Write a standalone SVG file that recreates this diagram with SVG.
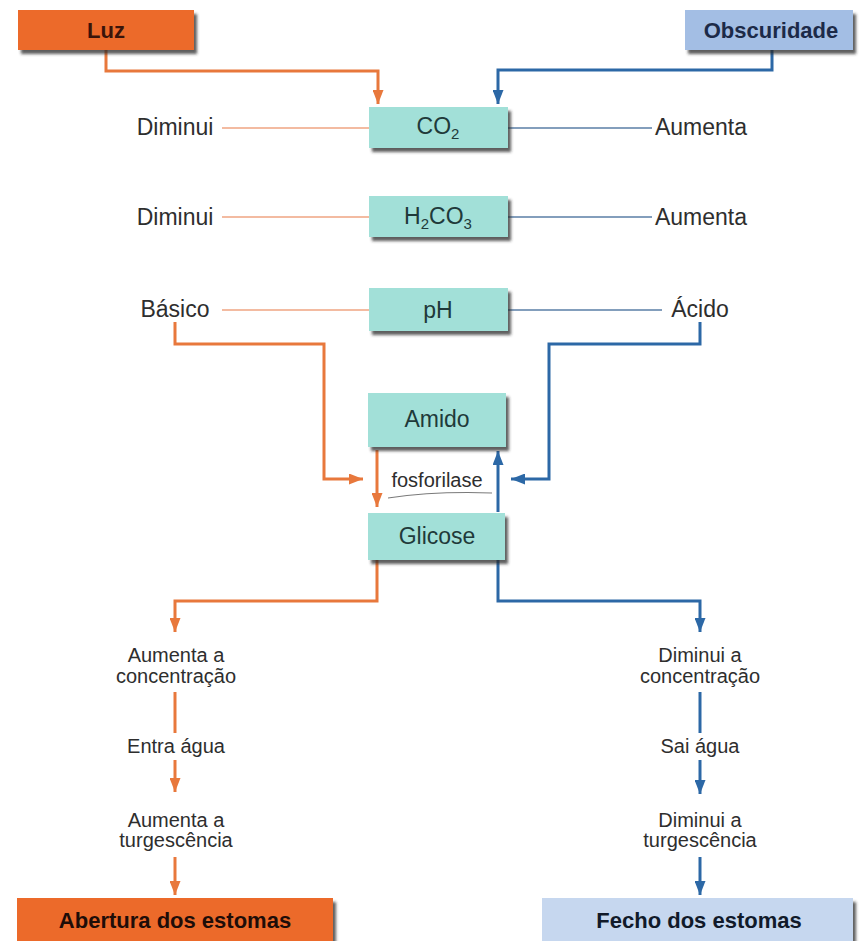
<svg xmlns="http://www.w3.org/2000/svg" width="859" height="941" viewBox="0 0 859 941">
  <defs>
    <filter id="shadow" x="-10%" y="-20%" width="125%" height="160%">
      <feDropShadow dx="3" dy="4" stdDeviation="1.4" flood-color="#2b2b2b" flood-opacity="0.75"/>
    </filter>
    <marker id="arrow-orange" markerUnits="userSpaceOnUse" markerWidth="15" markerHeight="11" refX="14" refY="5.5" orient="auto">
      <path d="M0,0 L14,5.5 L0,11 Z" fill="#e8783c"/>
    </marker>
    <marker id="arrow-blue" markerUnits="userSpaceOnUse" markerWidth="15" markerHeight="11" refX="14" refY="5.5" orient="auto">
      <path d="M0,0 L14,5.5 L0,11 Z" fill="#2c68a6"/>
    </marker>
  </defs>
  <style>
    text { font-family: "Liberation Sans", Arial, sans-serif; fill: #2e2e2e; text-anchor: middle; }
    .lbl { font-size: 23px; }
    .col { font-size: 20px; }
    .box-lbl { font-size: 23px; fill: #1f3a3a; }
    .head { font-size: 22px; font-weight: bold; }
    .teal { fill: #a2e0d8; filter: url(#shadow); }
    .orange-box { fill: #ec6a2c; filter: url(#shadow); }
    .blue-box { fill: #a3bee4; filter: url(#shadow); }
    .pale-blue-box { fill: #c6d7ef; filter: url(#shadow); }
    .o { fill: none; stroke: #e8783c; stroke-width: 3; }
    .b { fill: none; stroke: #2c68a6; stroke-width: 3; }
    .o-thin { fill: none; stroke: #efa482; stroke-width: 1.6; }
    .b-thin { fill: none; stroke: #5a7ea6; stroke-width: 1.6; }
    .oa { marker-end: url(#arrow-orange); }
    .ba { marker-end: url(#arrow-blue); }
  </style>

  <rect width="859" height="941" fill="#ffffff"/>

  <!-- connectors -->
  <g id="connectors">
    <!-- from light / darkness to CO2 -->
    <path class="o oa" d="M106,50 V71 H378 V104" stroke-width="2.6"/>
    <path class="b ba" d="M772,50 V70 H498 V104"/>
    <!-- label lines -->
    <path class="o-thin" d="M222,128 H370"/>
    <path class="b-thin" d="M508,128 H652"/>
    <path class="o-thin" d="M222,217 H370"/>
    <path class="b-thin" d="M508,217 H652"/>
    <path class="o-thin" d="M222,310 H370"/>
    <path class="b-thin" d="M508,310 H662"/>
    <!-- pH outcome to starch / glucose conversion -->
    <path class="o oa" d="M175,322 V344 H324 V479 H363"/>
    <path class="b ba" d="M700,322 V344 H549 V479 H511"/>
    <!-- starch <-> glucose -->
    <path class="o oa" d="M377,450 V507"/>
    <path class="b ba" d="M498,512 V451"/>
    <path d="M388,498 Q436,491 492,493" fill="none" stroke="#7a7a7a" stroke-width="1.1"/>
    <!-- glucose to the two branches -->
    <path class="o oa" d="M377,560 V601 H175 V632"/>
    <path class="b ba" d="M498,560 V601 H700 V632"/>
    <!-- left branch -->
    <path class="o" d="M175,692 V733"/>
    <path class="o oa" d="M175,760 V792"/>
    <path class="o oa" d="M175,857 V895"/>
    <!-- right branch -->
    <path class="b" d="M700,692 V733"/>
    <path class="b ba" d="M700,760 V794"/>
    <path class="b ba" d="M700,857 V895"/>
  </g>

  <!-- top conditions -->
  <g id="luz">
    <rect class="orange-box" x="18" y="10" width="176" height="40"/>
    <text class="head" x="106" y="38" style="fill:#3a140a">Luz</text>
  </g>
  <g id="obscuridade">
    <rect class="blue-box" x="685" y="10" width="168" height="40"/>
    <text class="head" x="771" y="38" style="fill:#1c2a48">Obscuridade</text>
  </g>

  <!-- central chain -->
  <g id="co2">
    <rect class="teal" x="369" y="107" width="139" height="41"/>
    <text class="box-lbl" x="438" y="134">CO<tspan font-size="15" dy="5">2</tspan></text>
  </g>
  <g id="h2co3">
    <rect class="teal" x="369" y="196" width="139" height="41"/>
    <text class="box-lbl" x="438" y="224">H<tspan font-size="15" dy="5">2</tspan><tspan dy="-5">CO</tspan><tspan font-size="15" dy="5">3</tspan></text>
  </g>
  <g id="ph">
    <rect class="teal" x="369" y="288" width="139" height="43"/>
    <text class="box-lbl" x="438" y="318">pH</text>
  </g>
  <g id="amido">
    <rect class="teal" x="368" y="393" width="138" height="54"/>
    <text class="box-lbl" x="437" y="427">Amido</text>
  </g>
  <g id="fosforilase">
    <text x="437" y="487" font-size="20">fosforilase</text>
  </g>
  <g id="glicose">
    <rect class="teal" x="368" y="513" width="137" height="47"/>
    <text class="box-lbl" x="437" y="544">Glicose</text>
  </g>

  <!-- side labels -->
  <g id="co2-luz"><text class="lbl" x="175" y="135">Diminui</text></g>
  <g id="co2-obscuridade"><text class="lbl" x="701" y="135">Aumenta</text></g>
  <g id="h2co3-luz"><text class="lbl" x="175" y="225">Diminui</text></g>
  <g id="h2co3-obscuridade"><text class="lbl" x="701" y="225">Aumenta</text></g>
  <g id="ph-luz"><text class="lbl" x="175" y="317">Básico</text></g>
  <g id="ph-obscuridade"><text class="lbl" x="700" y="317">Ácido</text></g>

  <!-- left branch: opening -->
  <g id="aumenta-concentracao">
    <text class="col" x="176" y="662">Aumenta a</text>
    <text class="col" x="176" y="683">concentração</text>
  </g>
  <g id="entra-agua"><text class="col" x="176" y="753">Entra água</text></g>
  <g id="aumenta-turgescencia">
    <text class="col" x="176" y="827">Aumenta a</text>
    <text class="col" x="176" y="847">turgescência</text>
  </g>
  <g id="abertura">
    <rect class="orange-box" x="17" y="898" width="316" height="48"/>
    <text class="head" x="175" y="928" style="fill:#1e0d08">Abertura dos estomas</text>
  </g>

  <!-- right branch: closing -->
  <g id="diminui-concentracao">
    <text class="col" x="700" y="662">Diminui a</text>
    <text class="col" x="700" y="683">concentração</text>
  </g>
  <g id="sai-agua"><text class="col" x="700" y="753">Sai água</text></g>
  <g id="diminui-turgescencia">
    <text class="col" x="700" y="827">Diminui a</text>
    <text class="col" x="700" y="847">turgescência</text>
  </g>
  <g id="fecho">
    <rect class="pale-blue-box" x="542" y="898" width="311" height="48"/>
    <text class="head" x="699" y="928" style="fill:#111a2a">Fecho dos estomas</text>
  </g>
</svg>
